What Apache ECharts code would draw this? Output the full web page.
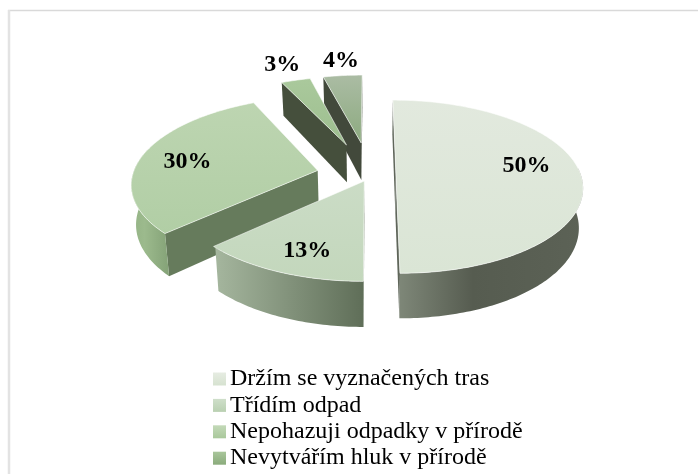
<!DOCTYPE html>
<html><head><meta charset="utf-8">
<style>html,body{margin:0;padding:0;background:#fff}#c{width:698px;height:474px}</style>
<script src="https://cdn.jsdelivr.net/npm/echarts@6/dist/echarts.min.js"></script>
</head><body><div id="c"></div>
<script>
// Data
const categories = ['Držím se vyznačených tras','Třídím odpad','Nepohazuji odpadky v přírodě','Nevytvářím hluk v přírodě','(pátá položka – v obrázku oříznutá)'];
const values = [50,13,30,3,4];
const legendItems = categories.slice(0,4);

// Styling / layout, separate from the data
const explode = [0.14,0.0766,0.29,0.394,0.40];
const topColors = [['#e2e9de','#dae5d5'],['#cbdcc6','#c3d7bc'],['#bdd5b1','#b1cea5'],['#aac99c','#9dbe8f'],['#abbca4','#8caa7f']];
const cutColors = ['#5f665a','#66775e','#667b5c','#454f3c','#42493b'];
const rimStops = [
  [[0,'#7e8778'],[0.4,'#565c50'],[1,'#5c6256']],
  [[0,'#a5b69e'],[1,'#5f6e58']],
  [[0,'#94b385'],[0.35,'#9cba8d'],[1,'#84a277']],
  [[0,'#667b5c'],[1,'#667b5c']],
  [[0,'#667b5c'],[1,'#667b5c']]
];
const legendColors = [['#e6ece2','#d6e2d0'],['#cfdfca','#b9d0b1'],['#c3d9b8','#a9c89b'],['#a9c69b','#8aab7b']];
const labelRho = [0.7,0.75,0.7,1.25,1.1];
const labelShift = [[1,-9],[5,4],[-7,2],[-2.5,-1],[0,-9]];
const drawOrder = [4,3,2,1,0];

// Projection of the tilted pie
const CX=370,CY=175,A=185,B=85,K=0.135,DEPTH=39,SHRINK=0.98;
const rad=d=>d*Math.PI/180;
const topPt=(x,y)=>{const w=1+K*y;return [CX+A*x/w,CY-B*y/w];};
const botPt=(x,y)=>{const w=1+K*y,p=topPt(x,y);return [CX+SHRINK*(p[0]-CX),p[1]+DEPTH/w];};
const vgrad=c=>new echarts.graphic.LinearGradient(0,0,0,1,[{offset:0,color:c[0]},{offset:1,color:c[1]}]);
const area=pts=>pts.reduce((s,p,k)=>{const q=pts[(k+1)%pts.length];return s+p[0]*q[1]-q[0]*p[1];},0);

const total=values.reduce((a,b)=>a+b,0);
let cum=0;
const spans=values.map(v=>{const s=cum/total*360;cum+=v;return [s,cum/total*360];});

function renderSlice(i){
  return function(params,api){
    const start=api.value(0),end=api.value(1),val=api.value(2);
    const mid=rad((start+end)/2);
    const ox=explode[i]*Math.sin(mid),oy=explode[i]*Math.cos(mid);
    const P=(t,r)=>[ox+r*Math.sin(rad(t)),oy+r*Math.cos(rad(t))];
    const topPts=[topPt(ox,oy)],children=[];
    for(let t=start;t<end+1e-6;t+=Math.min(1,(end-start)/8)){const p=P(t,1);topPts.push(topPt(p[0],p[1]));}
    const pe=P(end,1);topPts.push(topPt(pe[0],pe[1]));
    // cut faces that turn toward the viewer
    [[start,-1],[end,1]].forEach(c=>{
      const p=P(c[0],1);
      const pts=[topPt(ox,oy),topPt(p[0],p[1]),botPt(p[0],p[1]),botPt(ox,oy)];
      if(area(pts)*c[1]>0) children.push({type:'polygon',silent:true,shape:{points:pts},style:{fill:cutColors[i]}});
    });
    // outer wall, only the side turned to the viewer
    const a0=Math.max(start,85),a1=Math.min(end,285);
    if(a1>a0){
      const up=[],dn=[];
      for(let t=a0;t<=a1+1e-6;t+=1){const p=P(Math.min(t,a1),1);up.push(topPt(p[0],p[1]));dn.unshift(botPt(p[0],p[1]));}
      children.push({type:'polygon',silent:true,shape:{points:up.concat(dn)},
        style:{fill:new echarts.graphic.LinearGradient(0,0,1,0,rimStops[i].map(s=>({offset:s[0],color:s[1]})))}});
    }
    // top surface
    children.push({type:'polygon',silent:true,shape:{points:topPts},style:{fill:vgrad(topColors[i]),stroke:'rgba(255,255,255,0.55)',lineWidth:1}});
    // label
    const l=P((start+end)/2,labelRho[i]),lp=topPt(l[0],l[1]);
    children.push({type:'text',silent:true,z2:10,style:{text:val+'%',x:lp[0]+labelShift[i][0],y:lp[1]+labelShift[i][1],
      font:'bold 24px "Liberation Serif"',fill:'#000',align:'center',verticalAlign:'middle'}});
    return {type:'group',children};
  };
}

const chart=echarts.init(document.getElementById('c'),null,{renderer:'canvas'});
chart.setOption({
  animation:false,
  backgroundColor:'#fff',
  graphic:[
    {type:'line',silent:true,shape:{x1:8,y1:10.5,x2:698,y2:10.5},style:{stroke:'#d9d9d9',lineWidth:1.5}},
    {type:'line',silent:true,shape:{x1:9,y1:10,x2:9,y2:474},style:{stroke:'#e3e3e3',lineWidth:2.5}}
  ],
  legend:{
    orient:'vertical',left:213,top:367,height:107,selectedMode:false,
    itemWidth:13,itemHeight:13,itemGap:2.4,icon:'rect',padding:0,
    data:legendItems.map((n,i)=>({name:n,itemStyle:{color:vgrad(legendColors[i])}})),
    textStyle:{fontFamily:'"Liberation Serif"',fontSize:24,lineHeight:24,color:'#000',padding:[0,0,0,-1]}
  },
  series:drawOrder.map(i=>({
    type:'custom',name:categories[i],coordinateSystem:'none',
    itemStyle:{color:topColors[i][1]},
    renderItem:renderSlice(i),
    data:[[spans[i][0],spans[i][1],values[i]]]
  }))
});
</script></body></html>
